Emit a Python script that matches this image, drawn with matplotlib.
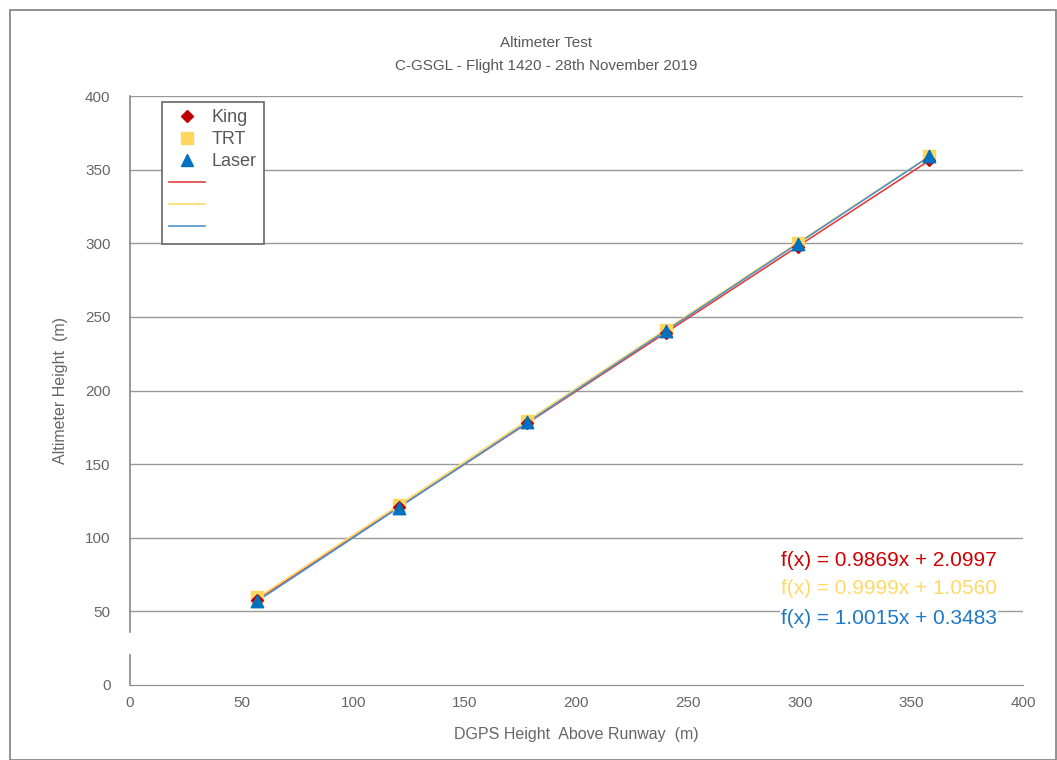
import numpy as np
import matplotlib.pyplot as plt
from matplotlib.patches import Rectangle
from matplotlib.lines import Line2D

# DGPS height above runway (m)
dgps = [57, 120.5, 178, 240, 299, 358]
# altimeter readings (m)
king = [58, 121, 178, 239, 297.5, 356.5]
trt = [59.5, 122, 179.5, 241, 300, 359.5]
laser = [57, 120.5, 178.5, 240.5, 299.5, 359]

equations = ['f(x) = 0.9869x + 2.0997', 'f(x) = 0.9999x + 1.0560', 'f(x) = 1.0015x + 0.3483']

plt.rcParams['font.family'] = ['Liberation Sans', 'DejaVu Sans']

fig = plt.figure(figsize=(10.57, 7.6), dpi=100)
ax = fig.add_axes([130 / 1057, 1 - 685 / 760, 893 / 1057, 589 / 760])

# outer chart frame
fig.patches.append(Rectangle((10 / 1057, 0), 1 - 10 / 1057 - 0.001, 1 - 10 / 760,
                             transform=fig.transFigure, fill=False, ec='#7f7f7f', lw=1.2))

red, yellow, blue = '#e0403c', '#ffd966', '#4f93c9'

# trend lines fitted from the data
for ys, c in [(king, red), (trt, yellow), (laser, blue)]:
    k, b = np.polyfit(dgps, ys, 1)
    xs = np.array([min(dgps), max(dgps)])
    ax.plot(xs, k * xs + b, color=c, lw=1.2, zorder=3)

ax.scatter(dgps, trt, marker='s', s=80, color='#ffd75e', zorder=4)
ax.scatter(dgps, king, marker='D', s=36, color='#c00000', zorder=5)
ax.scatter(dgps, laser, marker='^', s=80, color='#0070c0', zorder=6)

ax.set_xlim(0, 400)
ax.set_ylim(0, 400)
ax.set_xticks(range(0, 401, 50))
ax.set_yticks(range(0, 401, 50))
ax.tick_params(length=0, labelsize=11, colors='#666666', pad=8)
ax.tick_params(axis='y', pad=14)
ax.grid(axis='y', color='#999999', lw=1)
ax.get_ygridlines()[0].set_visible(False)
ax.set_axisbelow(True)

for s in ['top', 'right', 'left']:
    ax.spines[s].set_visible(False)
ax.spines['bottom'].set_color('#888888')

# broken y axis line
tr = ax.get_yaxis_transform()
ax.plot([0, 0], [0, 20.5], color='#888888', lw=1.2, transform=tr, clip_on=False)
ax.plot([0, 0], [36, 400], color='#888888', lw=1.2, transform=tr, clip_on=False)

ax.set_xlabel('DGPS Height  Above Runway  (m)', fontsize=11.5, color='#666666', labelpad=12)
ax.set_ylabel('Altimeter Height  (m)', fontsize=11.5, color='#666666', labelpad=12)

fig.text(0.517, 1 - 43 / 760, 'Altimeter Test', ha='center', va='center', fontsize=11, color='#595959')
fig.text(0.517, 1 - 66 / 760, 'C-GSGL - Flight 1420 - 28th November 2019', ha='center', va='center',
         fontsize=11, color='#595959')

eq_colors = ['#d00000', '#ffd966', '#1f78c8']
eq_y = [561, 588, 618]
for i, (txt, c) in enumerate(zip(equations, eq_colors)):
    t = fig.text(997 / 1057, 1 - eq_y[i] / 760, txt, fontsize=15, color=c, ha='right', va='center')
    if i == 2:
        t.set_bbox(dict(fc='white', ec='none', pad=1))

handles = [Line2D([], [], marker='D', ls='none', color='#c00000', ms=6),
           Line2D([], [], marker='s', ls='none', color='#ffd75e', ms=8),
           Line2D([], [], marker='^', ls='none', color='#0070c0', ms=8),
           Line2D([], [], color=red, lw=1.2),
           Line2D([], [], color=yellow, lw=1.2),
           Line2D([], [], color=blue, lw=1.2)]
leg = ax.legend(handles, ['King', 'TRT', 'Laser', ' ', ' ', ' '], loc='upper left',
                bbox_to_anchor=(32 / 893, 1 - 6 / 589), fontsize=13, frameon=True, fancybox=False,
                handlelength=2.0, handletextpad=0.35, borderpad=0.4, labelspacing=0.28,
                borderaxespad=0, labelcolor='#595959')
leg.get_frame().set_edgecolor('#666666')
leg.get_frame().set_linewidth(1.2)
leg.get_frame().set_alpha(1)

fig.savefig('out.png', dpi=100)
